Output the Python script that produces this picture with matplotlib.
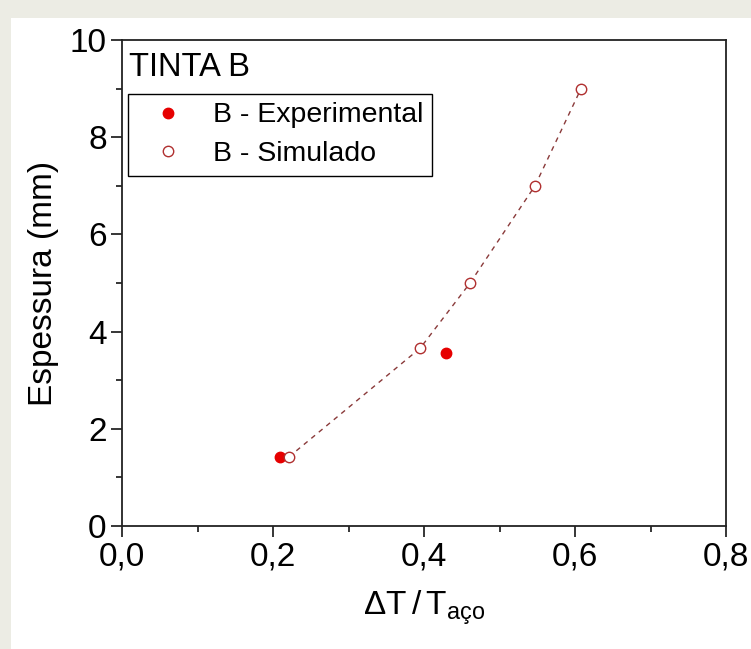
import matplotlib.pyplot as plt
from matplotlib.patches import Rectangle
from matplotlib.ticker import MultipleLocator, FuncFormatter

# Data
exp_x = [0.209, 0.429]
exp_y = [1.42, 3.56]
sim_x = [0.221, 0.395, 0.461, 0.547, 0.608]
sim_y = [1.42, 3.66, 5.0, 7.0, 9.0]

plt.rcParams['font.family'] = ['Liberation Sans', 'DejaVu Sans']

fig = plt.figure(figsize=(7.51, 6.49), dpi=100)
fig.patch.set_facecolor('#ecece4')

# white sheet behind the plot
sheet = Rectangle((11 / 751, 0), 1, 1 - 18 / 649, transform=fig.transFigure,
                  facecolor='white', edgecolor='none', zorder=-10)
fig.add_artist(sheet)

ax = fig.add_axes([122 / 751, 1 - 526 / 649, 604 / 751, 486 / 649])
ax.set_zorder(1)
ax.set_facecolor('white')

ax.plot(sim_x, sim_y, linestyle=(0, (3.5, 3.5)), color='#8a3a3a', linewidth=1.0, zorder=2)
ax.plot(exp_x, exp_y, 'o', color='#e60000', markersize=7.5, label='B - Experimental', zorder=3)
ax.plot(sim_x, sim_y, 'o', markerfacecolor='white', markeredgecolor='#b03030',
        markeredgewidth=1.0, markersize=7.5, linestyle='none', label='B - Simulado', zorder=3)

ax.set_xlim(0, 0.8)
ax.set_ylim(0, 10)
ax.xaxis.set_major_locator(MultipleLocator(0.2))
ax.xaxis.set_minor_locator(MultipleLocator(0.1))
ax.yaxis.set_major_locator(MultipleLocator(2))
ax.yaxis.set_minor_locator(MultipleLocator(1))
ax.xaxis.set_major_formatter(FuncFormatter(lambda v, p: f"{v:.1f}".replace('.', ',')))
ax.yaxis.set_major_formatter(FuncFormatter(lambda v, p: f"{v:.0f}"))

ax.tick_params(which='major', direction='out', length=8, width=1.1, labelsize=24, pad=3)
ax.tick_params(which='minor', direction='out', length=4.5, width=1.1)
for s in ax.spines.values():
    s.set_linewidth(1.3)
    s.set_color('#222222')

ax.set_ylabel('Espessura (mm)', fontsize=24, labelpad=8)
ax.set_xlabel(r'$\mathregular{\Delta T\,/\,T_{aço}}$', fontsize=24, labelpad=12)

ax.text(0.012, 0.975, 'TINTA B', transform=ax.transAxes, fontsize=23.5,
        ha='left', va='top')

leg = ax.legend(loc='upper left', bbox_to_anchor=(0.01, 0.889), fontsize=20.5,
                frameon=True, fancybox=False, edgecolor='black', framealpha=1,
                handlelength=2.2, handletextpad=0.5, borderpad=0.3,
                labelspacing=0.45, borderaxespad=0)
leg.get_frame().set_linewidth(1.0)

fig.savefig('out.png', dpi=100, facecolor=fig.get_facecolor())
